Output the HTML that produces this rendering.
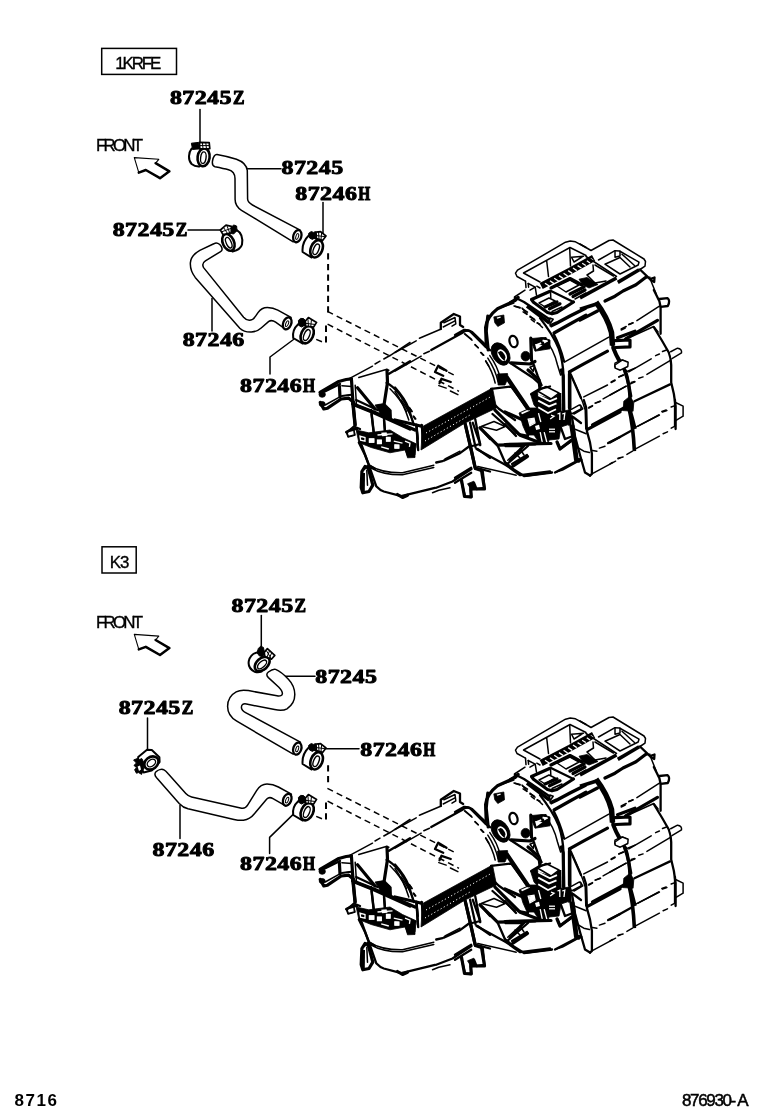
<!DOCTYPE html>
<html>
<head>
<meta charset="utf-8">
<title>8716 Heater hoses</title>
<style>
html,body{margin:0;padding:0;background:#fff;}
body{width:760px;height:1112px;overflow:hidden;font-family:"Liberation Sans",sans-serif;}
svg{display:block;position:absolute;left:0;top:0;will-change:transform;}
.pn{font-family:"Liberation Serif",serif;font-weight:bold;font-size:19.6px;fill:#000;stroke:#000;stroke-width:0.95px;stroke-linejoin:round;}
.sm{font-size:18.8px;stroke-width:1.15px;}
.thin{font-family:"Liberation Sans",sans-serif;font-size:16.9px;fill:#000;stroke:#000;stroke-width:0.35px;}
.ft{font-family:"Liberation Sans",sans-serif;font-size:17px;fill:#000;}
.l{fill:none;stroke:#000;stroke-width:1.5;stroke-linecap:round;stroke-linejoin:round;}
.h{fill:#fff;stroke:#000;stroke-width:1.5;stroke-linecap:round;stroke-linejoin:round;}
#c1>path:first-child,#c2>path:first-child,#c3>path:first-child,#c4>path:first-child,#c5>path:first-child,#c6>path:first-child{stroke-width:2;}
.k{fill:none;stroke:#000;stroke-width:2;stroke-linecap:round;stroke-linejoin:round;}
.b{fill:#000;stroke:#000;stroke-width:1;stroke-linejoin:round;}
.d{fill:none;stroke:#000;stroke-width:2;stroke-dasharray:6.3 4.3;}
.d2{fill:none;stroke:#000;stroke-width:1.5;stroke-dasharray:6.2 4.2;}
.u{fill:none;stroke:#000;stroke-width:1.5;stroke-linecap:round;stroke-linejoin:round;}
.u2{fill:none;stroke:#000;stroke-width:2.3;stroke-linecap:round;stroke-linejoin:round;}
.bk7{fill:none;stroke:#000;stroke-width:6.6;stroke-linecap:butt;}
.bk6{fill:none;stroke:#000;stroke-width:5.5;stroke-linecap:butt;}
.bk4{fill:none;stroke:#000;stroke-width:3.6;stroke-linecap:butt;}
.w{fill:none;stroke:#fff;stroke-width:1.3;stroke-linecap:butt;}
.f{fill:#000;stroke:#000;stroke-width:0.8;stroke-linejoin:round;}
.wf{fill:#fff;stroke:#000;stroke-width:1.5;stroke-linejoin:round;}
.wn{fill:#fff;stroke:none;}
.w3{fill:none;stroke:#fff;stroke-width:1.8;stroke-linecap:butt;}
.wd{fill:none;stroke:#fff;stroke-width:1;stroke-dasharray:1.2 2.4;}
.u3{fill:none;stroke:#000;stroke-width:3.2;stroke-linecap:round;stroke-linejoin:round;}
</style>
</head>
<body>
<svg width="760" height="1112" viewBox="0 0 760 1112">
<defs>
<!-- FRONT arrow -->
<g id="arrow">
<path d="M134.3 157.6 L158.8 159.3 L155.6 163.2 L169.4 171.3 L160 178.2 L145.8 170 L138.8 172.6 Z" fill="#fff" stroke="#000" stroke-width="1.1" stroke-linejoin="round"/>
<path d="M155.6 163.2 L169.4 171.3 L160 178.2 L145.8 170 L138.8 172.6" fill="none" stroke="#000" stroke-width="2.5" stroke-linejoin="round" stroke-linecap="round"/>
</g>
<!--UNITDEF_START-->
<g id="unit">
<path class="u" d="M 525.5 281.2 L 517.0 276.5 L 515.5 273.2 L 517.5 270.2 L 565.5 242.2 L 570.2 241.0 L 575.5 241.8 L 586.0 247.5"/>
<path class="u" d="M 540.0 282.0 L 523.5 273.0 L 570.0 247.5 L 586.0 255.5"/>
<path class="u" d="M 569.7 248.0 L 570.5 266.0"/>
<path class="u" d="M 546.7 261.0 L 548.5 276.5"/>
<path class="u" d="M 571.5 257.2 L 583.5 256.2 L 574.0 262.0 Z"/>
<path class="bk7" d="M 541.2 286.0 L 570.0 271.0 L 593.6 258.0"/>
<path class="w" d="M 586.8 260.8 L 590.0 263.0"/>
<path class="w" d="M 590.6 258.6 L 593.2 260.6"/>
<path class="w" d="M 545.0 283.2 L 549.2 286.0"/>
<path class="w" d="M 550.0 280.8 L 554.0 283.6"/>
<path class="w" d="M 554.2 278.2 L 558.8 281.2"/>
<path class="w" d="M 559.0 275.6 L 563.0 278.4"/>
<path class="w" d="M 563.6 273.2 L 567.6 276.0"/>
<path class="w" d="M 568.2 270.6 L 572.2 273.4"/>
<path class="w" d="M 573.0 268.0 L 576.8 270.6"/>
<path class="w" d="M 577.6 265.6 L 581.4 268.0"/>
<path class="w" d="M 582.2 263.2 L 585.8 265.5"/>
<path class="u" d="M 525.5 281.2 L 526.0 287.6"/>
<path class="u" d="M 528.2 283.5 L 528.6 287.2"/>
<path class="u" d="M 528.2 283.5 L 535.2 287.2 L 530.0 290.2"/>
<path class="u" d="M 535.2 287.2 L 536.5 295.2"/>
<path class="u" d="M 536.8 286.2 L 540.0 288.0"/>
<path class="u" d="M 510.0 302.0 L 514.5 299.2 L 514.5 297.0 L 525.0 290.2"/>
<path class="u2" d="M 515.5 297.8 L 524.0 302.0 L 549.5 319.2"/>
<path class="bk4" d="M 527.0 306.0 L 549.5 323.0"/>
<path class="u" d="M 549.5 319.2 L 550.2 326.0 L 554.0 324.8"/>
<path class="u" d="M 549.8 318.0 L 553.2 319.2 L 550.5 323.0"/>
<path class="u3" d="M 549.5 291.5 L 531.5 299.5 L 533.5 302.2 L 547.5 312.5 L 552.0 313.8 L 557.0 312.5 L 573.5 302.0"/>
<path class="u2" d="M 551.0 291.0 L 573.5 302.0"/>
<path class="u" d="M 539.0 303.0 L 549.0 298.0 L 555.2 301.0 L 545.0 307.0 Z"/>
<path class="u3" d="M 545.0 307.0 L 557.0 302.0"/>
<path class="u3" d="M 549.5 308.8 L 560.0 303.8"/>
<path class="u" d="M 552.0 311.5 L 562.0 307.0"/>
<path class="u" d="M 550.5 291.2 L 550.8 298.0"/>
<path class="u3" d="M 551.0 288.0 L 570.0 278.5 L 582.0 285.0"/>
<path class="u" d="M 557.0 286.0 L 570.0 280.0 L 579.0 285.0 L 566.0 292.0 Z"/>
<path class="u3" d="M 570.0 294.0 L 584.0 287.0"/>
<path class="u3" d="M 573.0 296.5 L 585.0 290.0"/>
<path class="u" d="M 575.0 299.0 L 586.0 293.0"/>
<path class="f" d="M 579.0 279.2 L 587.0 277.5 L 598.0 284.5 L 589.0 288.0 L 583.0 285.0 Z"/>
<path class="bk4" d="M 550.2 326.0 L 557.0 323.0 L 570.0 316.0 L 586.0 308.0"/>
<path class="u3" d="M 554.0 333.0 L 570.0 324.0 L 586.0 315.2"/>
<path class="u" d="M 514.0 306.0 L 520.0 308.0"/>
<path class="u" d="M 522.0 308.0 L 527.0 314.0"/>
<path class="u" d="M 530.0 317.0 L 534.0 319.0"/>
<path class="u" d="M 537.0 323.0 L 540.0 324.2"/>
<path class="u" d="M 580.0 244.0 L 591.0 250.5 L 609.0 240.5 L 613.0 240.0 L 644.0 259.0 L 645.5 261.5 L 645.0 266.2 L 640.0 269.5"/>
<path class="bk4" d="M 617.8 282.4 L 639.2 269.8"/>
<path class="u" d="M 598.5 260.0 L 615.0 250.7 L 619.5 251.0 L 639.0 262.2 L 638.2 265.0 L 620.0 274.0 L 605.0 264.2"/>
<path class="u" d="M 605.5 264.0 L 620.0 257.5 L 630.0 267.0"/>
<path class="u" d="M 615.0 251.0 L 615.0 257.2 L 620.0 256.0 L 620.0 251.2"/>
<path class="u" d="M 622.0 254.2 L 634.5 265.5"/>
<path class="u" d="M 586.0 256.5 L 616.5 276.5"/>
<path class="u" d="M 595.0 265.0 L 613.5 276.0"/>
<path class="bk4" d="M 616.5 278.0 L 580.0 297.8"/>
<path class="u" d="M 593.0 265.0 L 593.5 271.0 L 587.0 275.0 L 595.0 283.0 L 606.0 281.0"/>
<path class="u3" d="M 645.5 277.5 L 636.0 284.8 L 623.0 291.0 L 615.0 296.2 L 605.0 301.0"/>
<path class="bk4" d="M 580.0 309.2 L 596.5 304.0"/>
<path class="u3" d="M 580.0 320.2 L 597.5 311.0"/>
<path class="u2" d="M 640.0 269.5 L 650.0 279.2 L 654.5 277.5 L 654.2 282.0 L 650.5 279.8"/>
<path class="u" d="M 650.5 279.8 L 656.0 293.5"/>
<path class="u" d="M 645.0 278.0 L 650.0 277.2"/>
<path class="bk6" d="M 596.0 302.2 Q 607.5 317.5 611.5 332.5 L 612.5 345.6"/>
<path class="u3" d="M 612.5 345.0 Q 616.2 355.0 621.2 363.1 Q 627.5 375.0 630.8 396.2"/>
<path class="u2" d="M 553.8 334.4 Q 560.0 346.2 564.0 361.2"/>
<path class="u" d="M 564.4 362.2 L 608.8 337.2"/>
<path class="u3" d="M 569.4 371.9 L 583.8 363.8 L 607.5 351.2"/>
<path class="u3" d="M 569.8 371.9 L 570.0 429.0"/>
<path class="u" d="M 572.0 377.5 Q 581.2 396.2 585.2 410.0 L 585.8 429.0"/>
<path class="u" d="M 583.8 396.9 L 607.5 385.0"/>
<path class="u" d="M 611.2 381.9 L 615.0 380.0"/>
<path class="u" d="M 618.8 376.9 L 623.1 375.0"/>
<path class="u" d="M 603.1 398.8 L 626.2 386.2"/>
<path class="u" d="M 588.8 407.5 L 592.5 405.6"/>
<path class="u" d="M 595.0 403.1 L 600.0 401.2"/>
<path class="u3" d="M 592.5 425.0 L 625.0 407.5"/>
<path class="u2" d="M 540.0 318.1 Q 552.5 333.8 558.8 348.8 Q 563.1 361.2 563.5 376.2 L 563.2 410.0"/>
<path class="u" d="M 545.0 339.4 Q 553.8 348.8 557.5 365.0 L 560.6 375.0"/>
<path class="u2" d="M 540.0 338.8 L 545.6 338.1 L 546.2 342.5 L 540.0 345.0"/>
<path class="wf" d="M 615.0 363.1 L 621.9 360.0 L 627.5 362.2 L 626.9 366.5 L 618.8 369.0 L 614.8 366.9 Z"/>
<path class="u3" d="M 615.0 340.6 L 630.0 340.0 L 630.0 346.9 L 615.6 347.5"/>
<path class="u" d="M 621.2 329.0 L 626.2 326.5"/>
<path class="u" d="M 628.8 324.5 L 633.1 322.8"/>
<path class="u3" d="M 617.5 337.8 L 635.0 331.2"/>
<path class="u" d="M 627.5 371.2 L 635.0 368.1"/>
<path class="u" d="M 630.0 384.0 L 635.0 381.9"/>
<path class="wf" d="M 571.9 410.2 L 580.2 405.0 L 582.8 408.8 L 574.0 414.0 Z"/>
<path class="u3" d="M 612.8 347.8 Q 617.5 360.0 625.2 370.6"/>
<path class="u2" d="M 653.8 290.0 L 659.4 301.2 L 660.6 306.9 L 660.6 333.8"/>
<path class="u2" d="M 654.0 327.5 Q 662.5 341.2 668.8 352.5 Q 671.0 357.5 671.2 365.0 L 671.2 382.5 Q 674.4 393.8 675.6 406.2 L 675.6 429.0"/>
<path class="u2" d="M 659.4 299.0 L 667.5 298.1 Q 670.6 300.6 667.8 306.0 L 660.6 306.9"/>
<path class="u" d="M 636.9 320.6 L 659.4 306.2"/>
<path class="u" d="M 628.8 324.5 L 632.8 323.0"/>
<path class="u" d="M 621.2 330.0 L 625.2 328.1"/>
<path class="u3" d="M 625.6 338.8 L 657.5 320.4"/>
<path class="u" d="M 628.8 337.8 L 653.8 326.5 L 658.1 331.9"/>
<path class="wf" d="M 615.0 365.0 L 622.5 360.0 L 628.1 362.2 L 627.8 366.5 L 620.2 370.2 L 615.2 368.1 Z"/>
<path class="u" d="M 628.8 371.9 L 651.2 358.8"/>
<path class="u" d="M 655.6 355.6 L 659.4 354.0"/>
<path class="u" d="M 662.5 351.5 L 666.5 350.0"/>
<path class="u" d="M 646.9 374.4 L 670.0 360.6"/>
<path class="u" d="M 638.8 378.2 L 643.1 376.9"/>
<path class="u" d="M 631.2 382.5 L 634.5 381.5"/>
<path class="u" d="M 611.2 382.5 L 615.0 380.6"/>
<path class="u" d="M 618.8 377.0 L 623.8 375.0"/>
<path class="u" d="M 610.0 395.0 L 626.2 386.2"/>
<path class="wf" d="M 670.2 352.0 L 677.5 348.2 Q 682.2 348.8 681.5 352.8 L 671.5 358.8"/>
<path class="u2" d="M 634.4 401.2 L 670.0 384.4"/>
<path class="u" d="M 661.9 411.5 L 666.2 410.0"/>
<path class="u" d="M 638.1 426.2 L 658.8 415.0"/>
<path class="u" d="M 610.0 415.0 L 622.5 409.4"/>
<path class="u" d="M 675.6 402.5 L 683.1 406.2 L 683.1 416.2 L 675.6 420.6"/>
<path class="u3" d="M 625.6 371.2 Q 629.4 382.5 630.0 401.2"/>
<path class="f" d="M 623.8 401.2 L 630.0 396.2 L 633.8 402.5 L 633.1 411.2 L 623.1 410.6 Z"/>
<path class="bk4" d="M 630.0 410.0 Q 633.1 421.2 635.0 429.0"/>
<path class="bk4" d="M 628.8 407.5 Q 633.1 425.0 634.4 451.2"/>
<path class="u2" d="M 675.0 400.0 L 675.0 426.2"/>
<path class="u" d="M 636.2 426.9 L 659.4 415.0"/>
<path class="u" d="M 662.5 412.0 L 666.9 410.6"/>
<path class="u" d="M 671.2 407.0 L 675.0 405.6"/>
<path class="u" d="M 635.6 448.8 L 659.4 436.2"/>
<path class="u" d="M 663.1 433.8 L 667.5 431.9"/>
<path class="u" d="M 671.2 428.2 L 675.0 426.2"/>
<path class="u2" d="M 610.0 442.5 L 632.5 430.0"/>
<path class="u" d="M 626.9 454.4 L 632.5 451.2"/>
<path class="u" d="M 618.1 458.2 L 623.1 456.9"/>
<path class="u" d="M 610.0 463.8 L 612.5 462.5"/>
<path class="u" d="M 610.0 416.2 L 616.2 413.8"/>
<path class="u2" d="M 583.8 400.0 L 586.2 407.5 L 586.9 431.2 Q 590.6 442.5 591.9 453.8 L 591.9 473.8 L 590.0 475.6"/>
<path class="u2" d="M 571.9 416.2 L 575.0 436.2 L 580.0 455.0 L 585.0 472.5 L 590.0 475.6"/>
<path class="u" d="M 573.8 428.8 L 580.0 431.2 L 586.2 433.8"/>
<path class="u" d="M 577.5 447.5 L 583.8 451.2 L 589.4 452.5"/>
<path class="u3" d="M 587.5 429.4 L 620.0 411.9"/>
<path class="u" d="M 588.8 408.1 L 592.5 406.2"/>
<path class="u" d="M 595.6 403.1 L 600.6 401.2"/>
<path class="u" d="M 599.4 448.1 L 605.0 446.2"/>
<path class="u2" d="M 608.1 443.1 L 620.0 436.9"/>
<path class="u" d="M 592.5 450.6 L 596.9 451.2"/>
<path class="u" d="M 591.9 473.8 L 615.6 461.2"/>
<path class="u" d="M 618.1 458.8 L 620.0 458.1"/>
<path class="u" d="M 525.0 476.2 L 551.9 472.5"/>
<path class="u" d="M 555.6 472.2 L 562.5 470.0 L 578.8 461.2"/>
<path class="u2" d="M 557.5 442.5 L 560.0 448.8 L 572.5 440.2 L 574.4 437.5"/>
<path class="u3" d="M 573.1 441.2 L 575.6 460.0 L 578.8 461.2"/>
<path class="f" d="M 519.0 413.0 L 530.0 408.0 L 538.0 408.0 L 549.0 414.0 L 557.0 412.0 L 569.0 410.0 L 570.0 424.0 L 561.0 427.0 L 559.0 439.0 L 549.0 440.0 L 548.0 444.0 L 540.0 444.0 L 534.0 435.0 L 527.0 435.0 L 523.0 426.0 L 520.0 416.0 Z"/>
<path class="f" d="M 530.5 394.0 L 537.5 390.5 L 538.5 410.0 L 534.0 405.0 Z"/>
<path class="f" d="M 537.5 395.0 L 551.0 399.0 L 559.5 393.2 L 559.8 412.0 L 548.0 414.6 L 538.0 410.0 Z"/>
<path class="wf" d="M 537.5 391.0 L 546.0 386.5 L 559.0 393.0 L 551.0 399.0 Z"/>
<path class="w3" d="M 538.2 395.2 L 550.0 401.2 L 557.0 398.2"/>
<path class="w3" d="M 538.2 400.6 L 549.0 406.4 L 556.5 403.4"/>
<path class="w3" d="M 538.2 407.2 L 548.0 413.0 L 556.0 409.2"/>
<path class="bk4" d="M 559.5 393.0 L 559.8 412.0"/>
<path class="wn" d="M 528.6 419.4 L 533.8 418.6 L 534.6 422.8 L 530.2 425.2 Z"/>
<path class="wn" d="M 521.0 412.8 L 529.0 409.2 L 529.8 410.8 L 522.0 414.2 Z"/>
<path class="wn" d="M 561.6 428.4 L 565.0 438.4 L 572.2 435.6 L 569.8 425.6 Z"/>
<path class="w" d="M 538.5 413.2 L 540.8 422.0"/>
<path class="wn" d="M 535.0 426.0 L 539.0 424.8 L 540.0 429.0 L 536.2 430.0 Z"/>
<path class="w" d="M 528.2 419.2 L 534.0 418.2 L 535.0 423.0 L 530.0 425.8 Z"/>
<path class="w" d="M 549.0 429.2 L 555.0 429.2"/>
<path class="w" d="M 549.0 431.8 L 555.0 431.8"/>
<path class="w" d="M 551.0 415.2 L 554.0 416.2 L 550.2 419.0"/>
<path class="w" d="M 557.5 414.0 L 559.8 413.2 L 559.8 420.0"/>
<path class="w" d="M 562.2 414.0 L 564.8 413.2 L 564.0 420.0"/>
<path class="w" d="M 540.2 432.2 L 542.2 442.0"/>
<path class="w" d="M 544.2 432.2 L 547.0 443.0"/>
<path class="u3" d="M 506.0 377.0 L 527.0 408.0"/>
<path class="u3" d="M 528.0 370.0 L 539.0 380.0 L 540.0 389.0"/>
<path class="u3" d="M 505.0 412.0 L 523.0 420.0"/>
<path class="u2" d="M 505.0 420.0 L 518.0 434.0 L 528.0 436.0"/>
<path class="u2" d="M 505.0 424.0 L 516.0 436.0"/>
<path class="u3" d="M 561.2 370.0 L 563.2 376.0 L 563.8 410.0"/>
<path class="u2" d="M 569.0 374.0 L 569.0 408.0"/>
<path class="wf" d="M 570.0 410.2 L 579.0 405.2 L 581.0 406.2 L 581.0 409.0 L 571.5 414.0 Z"/>
<path class="u2" d="M 571.0 375.0 L 581.0 398.0"/>
<path class="u2" d="M 573.0 417.0 L 581.0 423.0"/>
<path class="u3" d="M 505.0 444.5 L 551.0 443.5"/>
<path class="u2" d="M 506.0 465.0 L 528.0 446.0"/>
<path class="u2" d="M 512.0 464.0 L 527.0 455.0"/>
<path class="u" d="M 515.0 453.0 L 520.0 458.0"/>
<path class="u" d="M 520.0 449.0 L 524.0 455.0"/>
<path class="u2" d="M 505.0 462.0 L 513.0 469.0 L 524.0 476.0 L 552.0 472.5"/>
<path class="u2" d="M 555.0 472.5 L 575.0 462.0"/>
<path class="u3" d="M 557.0 442.0 L 560.0 449.0 L 573.0 439.0 L 571.0 426.0"/>
<path class="u2" d="M 561.0 428.0 L 565.0 439.0 L 573.0 436.0"/>
<path class="u3" d="M 573.0 426.0 L 577.0 459.0 L 581.0 460.0"/>
<path class="u3" d="M 486.2 343.8 L 485.6 327.5 Q 486.9 316.9 497.5 308.8 L 515.0 300.6 L 518.1 297.5"/>
<path class="u" d="M 497.5 308.8 L 513.8 303.1"/>
<path class="u" d="M 515.0 306.2 L 520.0 307.5"/>
<path class="u" d="M 522.5 308.8 L 527.5 312.2"/>
<path class="u" d="M 530.0 316.2 L 535.0 320.2"/>
<path class="u" d="M 537.5 322.8 L 542.5 327.5"/>
<path class="u" d="M 523.1 311.9 L 526.9 314.4"/>
<path class="u" d="M 531.2 319.4 L 534.4 321.9"/>
<path class="f" d="M 493.8 316.9 L 503.8 315.0 L 504.5 322.8 L 497.8 326.5 L 494.8 322.8 Z"/>
<path class="w" d="M 496.9 318.1 L 500.6 317.2"/>
<ellipse class="u2" cx="513.5" cy="341.5" rx="3.9" ry="5.8" transform="rotate(-15 513.5 341.5)"/>
<ellipse class="f" cx="525.6" cy="356.2" rx="4.5" ry="4.8" transform="rotate(0 525.6 356.2)"/>
<path class="u3" d="M 530.8 338.1 L 531.5 360.0"/>
<path class="f" d="M 531.9 338.5 L 542.5 337.5 L 550.0 340.0 L 550.0 348.8 L 535.0 351.2 L 532.5 345.0 Z"/>
<path class="wn" d="M 535.0 344.0 L 542.5 345.2 L 536.5 349.5 Z"/>
<path class="wn" d="M 543.1 339.8 L 548.1 341.2 L 544.4 343.5 Z"/>
<path class="w3" d="M 536.2 345.0 L 541.2 343.1"/>
<path class="w3" d="M 542.5 340.6 L 547.5 341.2"/>
<path class="u3" d="M 511.2 362.8 L 530.0 364.0 L 535.0 361.5"/>
<path class="u2" d="M 531.5 360.0 L 534.0 365.6 L 537.8 376.2 L 541.5 385.2"/>
<path class="wf" d="M 530.0 367.2 L 534.5 365.2 L 533.2 371.5 Z"/>
<ellipse class="f" cx="500.6" cy="354.0" rx="8.2" ry="12.2" transform="rotate(-32 500.6 354.0)"/>
<ellipse class="w3" cx="502.2" cy="355.2" rx="3.2" ry="5.5" transform="rotate(-32 502.2 355.2)"/>
<path class="u" d="M 498.8 352.5 L 504.4 360.0"/>
<path class="u2" d="M 455.0 335.0 L 463.8 330.0 Q 468.8 329.8 471.9 331.9 L 485.6 345.0"/>
<path class="u" d="M 465.0 333.8 L 471.2 339.0"/>
<path class="u" d="M 475.0 345.0 L 478.2 347.8"/>
<path class="u" d="M 480.6 352.5 L 483.2 355.2"/>
<path class="u" d="M 485.6 361.0 Q 492.5 371.2 495.2 383.1"/>
<path class="u" d="M 487.8 358.1 Q 495.6 370.0 498.1 381.9"/>
<path class="u" d="M 489.8 355.6 Q 497.5 366.2 500.0 377.5"/>
<path class="f" d="M 497.5 374.0 L 507.5 373.5 L 508.1 378.1 L 505.0 385.0 L 498.1 385.0 Z"/>
<path class="u3" d="M 507.5 377.5 L 528.8 408.8"/>
<path class="u2" d="M 510.0 362.8 L 532.5 377.5 L 541.2 385.2"/>
<path class="u2" d="M 491.2 389.0 L 492.5 402.5 L 498.8 408.8 L 515.0 420.0"/>
<path class="u2" d="M 531.2 394.0 L 540.0 388.8 L 550.0 386.5"/>
<path class="f" d="M 423.5 426.0 L 492.5 388.0 L 496.5 408.0 L 465.0 423.0 L 421.0 450.0 L 422.0 435.0 Z"/>
<path class="wd" d="M 426.0 433.0 L 492.0 396.0"/>
<path class="wd" d="M 425.0 441.0 L 470.0 415.0"/>
<path class="u3" d="M 320.0 392.5 L 338.8 381.5 L 346.2 379.5 L 351.5 378.8"/>
<path class="u2" d="M 324.8 391.5 L 340.0 384.0"/>
<ellipse class="f" cx="322.2" cy="394.5" rx="3.2" ry="2.8" transform="rotate(0 322.2 394.5)"/>
<path class="u3" d="M 320.2 402.5 L 323.8 409.0 L 327.5 408.2 L 341.2 399.0 L 348.8 398.2 L 353.8 402.5"/>
<path class="u" d="M 325.2 405.0 L 341.2 396.2 L 351.2 395.0"/>
<ellipse class="f" cx="322.2" cy="404.0" rx="3.0" ry="2.5" transform="rotate(0 322.2 404.0)"/>
<path class="u3" d="M 339.4 386.2 L 340.0 396.9"/>
<path class="u" d="M 341.9 385.8 L 351.9 386.5"/>
<path class="u" d="M 341.9 395.8 L 351.2 394.5"/>
<path class="u" d="M 348.8 378.8 L 372.5 366.2"/>
<path class="u" d="M 375.0 364.0 L 380.0 361.2"/>
<path class="u" d="M 383.8 359.0 L 390.0 355.5"/>
<path class="u" d="M 390.0 355.6 L 410.0 342.5"/>
<path class="u" d="M 358.8 377.5 L 386.2 369.5 L 388.8 370.2"/>
<path class="u2" d="M 389.0 373.8 L 410.0 361.2"/>
<path class="u3" d="M 387.0 370.2 L 387.5 382.5 L 384.0 405.0"/>
<path class="u2" d="M 386.5 382.8 Q 400.0 390.0 410.0 412.5"/>
<path class="u" d="M 390.0 388.8 Q 401.2 400.0 406.5 411.5"/>
<path class="u3" d="M 351.5 380.2 L 352.8 400.0 L 355.2 425.0"/>
<path class="u" d="M 355.2 385.2 L 356.5 405.0"/>
<path class="u3" d="M 357.5 387.8 L 375.0 409.0"/>
<path class="u3" d="M 355.2 405.2 L 373.8 412.8 L 410.0 429.0"/>
<path class="f" d="M 377.5 405.0 L 385.0 403.8 L 391.2 410.0 L 391.5 420.0 L 382.5 417.5 Z"/>
<path class="u2" d="M 371.5 414.0 L 373.8 433.8"/>
<path class="u2" d="M 384.0 420.2 L 385.0 432.5"/>
<path class="wf" d="M 346.2 432.1 L 353.8 430.0 L 355.0 435.0 L 348.1 437.0 Z"/>
<path class="u2" d="M 346.2 432.1 L 352.5 428.8 L 357.5 429.0"/>
<path class="u2" d="M 358.8 442.5 L 365.0 455.0 L 369.0 465.2 L 364.0 469.0"/>
<path class="u2" d="M 369.0 465.2 L 375.0 469.0"/>
<path class="u" d="M 395.0 352.5 L 416.2 340.8"/>
<path class="u" d="M 419.4 338.2 L 441.2 329.0"/>
<path class="u2" d="M 440.8 329.0 L 440.8 322.8 L 453.8 314.0 L 460.0 316.5 L 460.0 325.0 L 463.2 327.0"/>
<path class="u" d="M 443.8 322.8 L 455.0 317.5 L 455.8 323.8 L 452.0 326.2"/>
<path class="u" d="M 443.2 327.0 L 455.0 320.8"/>
<path class="u" d="M 395.0 371.2 L 421.2 356.2"/>
<path class="u" d="M 423.8 353.8 L 429.5 351.2"/>
<path class="u2" d="M 431.2 350.0 L 462.5 332.8 Q 465.6 329.4 470.0 331.2 L 485.2 346.5 L 490.0 350.2"/>
<path class="u" d="M 464.5 334.0 L 472.0 340.2"/>
<path class="u" d="M 475.0 344.5 L 478.2 347.8"/>
<path class="u" d="M 481.2 352.5 L 483.8 355.2"/>
<path class="u" d="M 485.8 360.8 L 488.8 366.2"/>
<path class="u2" d="M 446.5 370.8 L 438.2 365.8 L 435.0 372.0 L 443.2 375.8"/>
<path class="u2" d="M 450.8 382.0 L 441.5 378.8 L 439.5 383.2"/>
<path class="u" d="M 438.8 385.6 L 446.2 388.1"/>
<path class="u2" d="M 395.0 387.5 Q 405.0 398.8 408.8 408.8 L 413.8 425.0"/>
<path class="u" d="M 395.0 391.5 Q 403.8 403.8 408.8 420.0"/>
<path class="u" d="M 409.4 407.5 L 412.0 411.5"/>
<path class="u" d="M 413.2 416.2 L 415.0 419.0"/>
<path class="u3" d="M 395.0 420.0 L 411.2 423.8 L 421.5 426.2"/>
<path class="u2" d="M 416.5 425.0 L 417.8 439.0"/>
<path class="u2" d="M 421.5 425.0 L 423.8 439.0"/>
<path class="u3" d="M 487.8 316.2 L 486.2 331.2 L 488.2 350.0"/>
<path class="f" d="M 356.2 430.0 L 368.8 432.8 L 390.0 430.0 L 402.5 437.5 L 416.2 443.8 L 415.0 455.0 L 407.5 456.5 L 405.0 450.0 L 390.0 452.8 L 371.2 447.5 L 358.8 442.5 Z"/>
<path class="wn" d="M 369.0 438.5 L 374.2 438.5 L 374.2 442.8 L 369.0 442.8 Z"/>
<path class="wn" d="M 377.0 439.8 L 381.8 439.8 L 381.8 444.0 L 377.0 444.0 Z"/>
<path class="wn" d="M 386.0 437.0 L 390.5 437.0 L 390.5 441.5 L 386.0 441.5 Z"/>
<path class="wn" d="M 394.5 444.5 L 399.2 444.8 L 399.2 448.5 L 394.5 448.5 Z"/>
<path class="wn" d="M 381.2 432.8 L 386.5 432.2 L 387.5 435.8 L 382.2 436.2 Z"/>
<path class="w" d="M 369.4 439.0 L 373.8 439.0 L 373.8 442.2 L 369.4 442.2 Z"/>
<path class="w" d="M 377.5 440.2 L 381.2 440.2 L 381.2 443.5 L 377.5 443.5 Z"/>
<path class="w" d="M 386.5 437.5 L 390.0 437.5 L 390.0 441.0 L 386.5 441.0 Z"/>
<path class="w" d="M 395.0 445.0 L 398.8 445.2 L 398.8 448.0 L 395.0 448.0 Z"/>
<path class="w" d="M 377.5 435.0 L 392.5 433.8"/>
<path class="w" d="M 360.0 436.2 L 365.0 437.5 L 365.0 441.2 L 360.6 440.2 Z"/>
<path class="w" d="M 405.0 441.2 L 410.0 443.1 L 409.4 446.9"/>
<path class="w" d="M 381.2 446.9 L 388.8 449.0"/>
<path class="w" d="M 393.8 441.2 L 402.5 443.1"/>
<path class="wf" d="M 346.9 432.1 L 353.8 430.0 L 354.5 435.0 L 348.2 436.5 Z"/>
<path class="u2" d="M 346.9 432.5 L 353.8 426.5 L 360.0 429.0"/>
<path class="u3" d="M 352.5 400.0 L 355.0 425.0"/>
<path class="u2" d="M 371.2 410.0 L 373.8 432.5"/>
<path class="u2" d="M 383.8 416.2 L 385.0 431.2"/>
<path class="u3" d="M 352.5 403.8 L 375.0 412.5 L 415.0 430.0"/>
<path class="u2" d="M 356.2 400.0 L 377.5 410.0"/>
<path class="f" d="M 375.0 405.0 L 382.5 403.8 L 390.0 408.8 L 391.2 418.8 L 381.2 415.0 Z"/>
<path class="u2" d="M 416.5 425.0 L 417.8 447.5"/>
<path class="u" d="M 422.5 425.0 L 422.5 441.2"/>
<path class="u" d="M 401.2 400.0 Q 410.0 412.5 413.8 423.8"/>
<path class="u" d="M 410.0 408.8 L 412.0 411.5"/>
<path class="u" d="M 413.8 416.2 L 415.8 419.0"/>
<path class="u2" d="M 361.2 443.8 L 368.8 465.0 L 376.2 486.2 Q 380.0 490.2 383.8 491.5 L 401.2 496.2 L 435.0 487.8"/>
<path class="u" d="M 368.8 465.0 Q 381.2 473.1 402.5 472.8 L 433.8 465.2"/>
<path class="u" d="M 371.2 468.1 Q 382.5 475.0 402.5 474.8 L 433.8 467.5"/>
<path class="u3" d="M 361.9 471.5 L 365.0 466.5 L 368.2 467.8 L 372.8 485.2 L 369.0 491.5 L 362.8 492.8 L 361.2 487.5 Z"/>
<path class="bk4" d="M 363.2 473.1 L 363.0 491.2"/>
<path class="u" d="M 366.8 470.2 L 367.5 485.2"/>
<path class="u3" d="M 397.5 494.5 L 402.5 497.5 L 407.5 495.2"/>
<path class="u2" d="M 436.2 462.5 L 442.5 461.2"/>
<path class="u2" d="M 443.8 460.6 L 460.0 453.1 L 469.0 446.5"/>
<path class="u" d="M 445.0 458.8 L 460.0 451.2"/>
<path class="u2" d="M 436.2 487.8 L 452.5 481.5 L 471.5 469.0"/>
<path class="u" d="M 432.5 492.8 L 438.8 490.2 L 450.0 487.8"/>
<path class="u3" d="M 465.2 424.0 L 470.2 445.2 L 475.2 467.8"/>
<path class="u2" d="M 472.8 422.8 L 480.2 444.0 L 470.2 446.5"/>
<path class="u2" d="M 461.2 480.2 L 465.0 496.5 L 471.5 497.0 L 470.2 486.5 L 474.0 482.8 L 476.5 489.0 L 484.5 487.8 L 482.8 471.5 L 475.2 469.0"/>
<path class="f" d="M 470.0 486.2 L 474.0 482.5 L 476.2 489.0 L 471.2 490.0 Z"/>
<path class="u2" d="M 416.5 425.2 L 418.2 450.2"/>
<path class="u2" d="M 422.0 426.5 L 422.8 442.8"/>
<path class="f" d="M 405.0 447.8 L 415.0 447.5 L 415.0 457.5 L 407.5 457.8 Z"/>
<path class="u2" d="M 480.0 427.8 L 490.0 439.0"/>
<path class="u2" d="M 477.5 449.0 L 490.0 457.8"/>
<path class="u2" d="M 476.2 467.8 L 490.0 471.5"/>
<path class="u3" d="M 465.2 424.0 L 471.2 450.2 L 475.2 467.8"/>
<path class="u2" d="M 470.0 422.5 L 475.6 447.5"/>
<path class="u2" d="M 475.2 419.0 L 480.2 445.2"/>
<path class="u3" d="M 480.0 427.8 L 497.5 445.2 L 535.0 444.0"/>
<path class="u2" d="M 497.5 445.2 L 505.2 462.8"/>
<path class="u2" d="M 476.5 449.0 L 506.2 465.2 L 520.2 475.2 L 550.0 471.5"/>
<path class="u" d="M 505.2 446.5 L 522.5 446.5 L 507.8 460.2"/>
<path class="u2" d="M 510.0 460.2 L 525.0 445.2"/>
<path class="u3" d="M 512.5 466.5 L 527.5 456.5"/>
<path class="u2" d="M 471.2 467.8 L 455.0 477.8"/>
<path class="u2" d="M 455.0 482.8 L 471.2 472.8"/>
<path class="u3" d="M 461.5 480.2 L 464.5 496.5 L 471.2 497.0 L 470.8 489.0 L 484.5 489.0 L 481.5 470.2"/>
<path class="f" d="M 467.5 483.8 L 473.8 481.2 L 475.6 488.8 L 470.8 489.0 Z"/>
<path class="u" d="M 477.8 466.5 L 516.2 475.2"/>
<path class="u3" d="M 495.0 410.2 L 520.0 435.2 L 540.2 442.8"/>
<path class="u2" d="M 492.5 414.0 L 515.0 434.0"/>
<path class="u2" d="M 491.2 388.8 L 511.2 386.5 L 527.8 409.0"/>
<path class="u" d="M 481.2 426.5 L 494.0 421.5 L 505.2 426.5 L 496.5 430.2 Z"/>
<path class="u" d="M 450.4 391.0 L 457.9 394.6"/>
</g>
<!--UNITDEF_END-->
</defs>

<!-- ===== boxes / headings ===== -->
<rect x="101.7" y="48.4" width="74.8" height="26" fill="#fff" stroke="#000" stroke-width="1.5"/>
<text class="thin" x="115.2" y="68.5" textLength="46.2" lengthAdjust="spacing">1KRFE</text>
<rect x="102" y="546.8" width="34.2" height="26.2" fill="#fff" stroke="#000" stroke-width="1.5"/>
<text class="thin" x="109.7" y="567.5" textLength="19.8" lengthAdjust="spacing">K3</text>

<text class="thin" x="96" y="151" textLength="47" lengthAdjust="spacing">FRONT</text>
<use href="#arrow"/>
<text class="thin" x="96" y="627.7" textLength="47" lengthAdjust="spacing">FRONT</text>
<use href="#arrow" transform="translate(0,476.8)"/>

<!--UPPER_START-->
<!-- ===== UPPER FIGURE ===== -->
<g id="labelsTop">
<text class="pn" transform="translate(169.9 104.2) scale(1.22 1)" textLength="50.5" lengthAdjust="spacing">87245</text><text class="pn sm" transform="translate(232.9 104.2) scale(0.92 1)">Z</text>
<text class="pn" transform="translate(281.5 173.8) scale(1.22 1)" textLength="50.5" lengthAdjust="spacing">87245</text>
<text class="pn" transform="translate(295.3 199.6) scale(1.22 1)" textLength="50.5" lengthAdjust="spacing">87246</text><text class="pn sm" transform="translate(358.3 199.6) scale(0.82 1)">H</text>
<text class="pn" transform="translate(112.7 236.2) scale(1.22 1)" textLength="50.5" lengthAdjust="spacing">87245</text><text class="pn sm" transform="translate(175.7 236.2) scale(0.92 1)">Z</text>
<text class="pn" transform="translate(182.7 346.4) scale(1.22 1)" textLength="50.5" lengthAdjust="spacing">87246</text>
<text class="pn" transform="translate(240.1 391.8) scale(1.22 1)" textLength="50.5" lengthAdjust="spacing">87246</text><text class="pn sm" transform="translate(303.1 391.8) scale(0.82 1)">H</text>
</g>
<!-- leaders -->
<path class="l" d="M200 109.5 V143"/>
<path class="l" d="M247.5 168.8 H281"/>
<path class="l" d="M323 202.5 V235"/>
<path class="l" d="M188 230 H221"/>
<path class="l" d="M212 298.5 V331"/>
<path class="l" d="M270 374 V357 L293.5 339.5"/>
<!-- dashed guide lines -->
<path class="d" d="M328.1 253.3 V314"/><path class="d2" d="M327.4 311.4 L457 376.6"/>
<path class="d" d="M326 325.6 V343.6"/><path class="d2" d="M316.2 339.4 L323.7 342.4"/><path class="d2" d="M327.6 324.2 L459 391.3"/>
<!-- hose 87245 -->
<path class="h" d="M217 154.4 C224 155.6 231 157.4 236.5 159.2 C243 161.5 246.6 164.5 247.3 170.5 L247.6 199 C247.7 201.6 249.6 203.3 252.5 205 L300.2 230.2 L293.2 241.8 L241.5 210.4 C236.8 207.2 235.1 204.2 235.1 199.5 L235 178.5 C234.9 173.5 233 171 228.5 169.8 C224 168.6 219 167.6 215 166.8 C212.5 166 212 163.5 212.6 160.5 C213.2 157.2 214.2 154.2 217 154.4 Z"/>
<g transform="translate(297.3,236.2) rotate(17)"><ellipse class="h" cx="0" cy="0" rx="4" ry="6.2" style="stroke-width:2.3"/><ellipse cx="0" cy="0.3" rx="1.3" ry="3" fill="#fff" stroke="#000" stroke-width="1"/></g>
<!-- hose 87246 -->
<path class="h" d="M213.8 243.8 C216.5 242.2 219.6 243.4 221.2 246.4 C222.4 248.6 222.4 250.6 220.6 251.6 L205.4 260.8 C202.6 262.6 202 264.6 203.6 267.6 L243.6 317.2 C246.4 320.4 249.8 320.8 252.6 319.4 C254.6 318.2 256.2 315.2 258 312.6 C260.6 309 263.2 307.6 267.4 307.6 C271.6 307.6 274.6 308.4 277.8 310.2 L291 317.4 L285 328.8 L275.6 322.2 C273 320.4 271 320 268.8 321.4 L261.2 328 C258.6 330.4 255.6 331.8 251.4 332 C246.6 332.2 243 331.4 239.8 328.2 L195.2 277.4 C191.6 272.8 190 268.2 190.4 262.6 C190.8 257.2 194.4 253.4 199.8 250.4 Z"/>
<g transform="translate(287.2,323.4) rotate(22)"><ellipse class="h" cx="0" cy="0" rx="4" ry="6.2" style="stroke-width:2.3"/><ellipse cx="0" cy="0.3" rx="1.3" ry="3" fill="#fff" stroke="#000" stroke-width="1"/></g>

<!-- clamp 1 -->
<g id="c1">
<path class="h" d="M191.6 148.6 C188.4 152.6 187.8 160 191.6 164 C193.8 165.8 196.8 166.6 199.6 166.4 L203 148.4 Z"/>
<g transform="translate(203.6,157.3) rotate(8)"><ellipse class="h" cx="0" cy="0" rx="6" ry="9" style="stroke-width:2.6"/><ellipse class="h" cx="-0.2" cy="0.4" rx="2.7" ry="5.8" style="stroke-width:1.4"/></g>
<path class="b" d="M191.4 143.2 L198.6 142.4 L199.4 148.4 L192.6 149.4 Z"/>
<path d="M199.4 142.4 L209.2 142.6 L209.8 148.6 L199.8 148.8 Z" fill="#fff" stroke="#000" stroke-width="1.7" stroke-linejoin="round"/>
<path class="l" d="M202.4 142.6 L203 148.4 M205.8 142.8 L206.4 148.4 M200 145.6 H209.4" style="stroke-width:1"/>
</g>
<!-- clamp 2 -->
<g id="c2">
<path class="h" d="M236.8 230.2 C241 232.6 243 238 242 244.6 C241.2 247.6 237.8 250.4 232.6 251.6 L226 234 Z"/>
<g transform="translate(228.4,242.4) rotate(-24)"><ellipse class="h" cx="0" cy="0" rx="5.6" ry="8.8" style="stroke-width:2.6"/><ellipse class="h" cx="0.2" cy="0.4" rx="2.5" ry="5.6" style="stroke-width:1.4"/></g>
<path d="M220.4 230 L226 225.2 L231.4 226.4 L231.2 232.8 L223 234.6 Z" fill="#fff" stroke="#000" stroke-width="1.7" stroke-linejoin="round"/>
<path class="l" d="M224 228.2 L227.4 233.4 M227.2 226.4 L229.6 232.6 M222.2 231.6 L230.6 228.6" style="stroke-width:1"/>
<path class="b" d="M231.4 227 L233.8 225 L236.6 226 L237 230.6 L233.6 234 L231.6 233.6 Z"/>
</g>
<!-- clamp 3 -->
<g id="c3">
<path class="h" d="M309.2 235 C304.4 239.6 302 245.6 302.6 252 L311.4 257.4 L318 240 Z"/>
<g transform="translate(316.6,248.8) rotate(22)"><ellipse class="h" cx="0" cy="0" rx="5.8" ry="9" style="stroke-width:2.6"/><ellipse class="h" cx="-0.2" cy="0.6" rx="2.6" ry="5.6" style="stroke-width:1.4"/></g>
<path class="b" d="M308.6 233.4 L311.2 231.6 L313.6 232.4 L315.4 231.6 L316 237.2 L312.4 239.4 L309.6 238 Z"/>
<path d="M316 232.2 L320.6 231.6 L326 236 L322.6 240.4 L316.4 238.6 Z" fill="#fff" stroke="#000" stroke-width="1.7" stroke-linejoin="round"/>
<path class="l" d="M318.6 232.4 L319 239 M321.6 233.2 L321 239.8 M316.6 235.6 L324.6 236.6" style="stroke-width:1"/>
</g>
<!-- clamp 4 -->
<g id="c4">
<path class="h" d="M298.4 324 C294 328 292.4 333 293.2 338 L302.4 343.4 L309 326 Z"/>
<g transform="translate(307.2,334.6) rotate(24)"><ellipse class="h" cx="0" cy="0" rx="6" ry="9.2" style="stroke-width:2.6"/><ellipse class="h" cx="-0.2" cy="0.6" rx="2.7" ry="5.8" style="stroke-width:1.4"/></g>
<path class="b" d="M298.4 320.4 L300.6 318.4 L303.6 318.6 L305.4 320.6 L305.2 325 L301.6 327 L298.8 325.4 Z"/>
<path d="M305.4 321 L308.4 317.6 L316.6 322.4 L313.6 327 L305.6 326.2 Z" fill="#fff" stroke="#000" stroke-width="1.7" stroke-linejoin="round"/>
<path class="l" d="M308 319.6 L308.4 326 M311.4 320 L310.8 326.4 M306 323.4 L314.6 324.4" style="stroke-width:1"/>
</g>
<!--UPPER_END-->
<!--LOWER_START-->
<!-- ===== LOWER FIGURE ===== -->
<g id="labelsBot">
<text class="pn" transform="translate(231.5 611.8) scale(1.22 1)" textLength="50.5" lengthAdjust="spacing">87245</text><text class="pn sm" transform="translate(294.5 611.8) scale(0.92 1)">Z</text>
<text class="pn" transform="translate(315.3 682.6) scale(1.22 1)" textLength="50.5" lengthAdjust="spacing">87245</text>
<text class="pn" transform="translate(118.7 714.4) scale(1.22 1)" textLength="50.5" lengthAdjust="spacing">87245</text><text class="pn sm" transform="translate(181.7 714.4) scale(0.92 1)">Z</text>
<text class="pn" transform="translate(360.3 755.6) scale(1.22 1)" textLength="50.5" lengthAdjust="spacing">87246</text><text class="pn sm" transform="translate(423.3 755.6) scale(0.82 1)">H</text>
<text class="pn" transform="translate(152.5 856.2) scale(1.22 1)" textLength="50.5" lengthAdjust="spacing">87246</text>
<text class="pn" transform="translate(240.1 870.4) scale(1.22 1)" textLength="50.5" lengthAdjust="spacing">87246</text><text class="pn sm" transform="translate(303.1 870.4) scale(0.82 1)">H</text>
</g>
<!-- leaders -->
<path class="l" d="M261.3 615.5 V649"/>
<path class="l" d="M285.6 676.2 H315"/>
<path class="l" d="M147.5 718 V750"/>
<path class="l" d="M326 748.8 H359"/>
<path class="l" d="M180 805.5 V838.5"/>
<path class="l" d="M269.6 853.5 V837.4 L293.2 814.4"/>
<!-- dashed guide lines -->
<path class="d" d="M328.1 765.3 V783"/><path class="d2" d="M327.4 788.4 L457 853.6"/>
<path class="d" d="M326 802.6 V820.6"/><path class="d2" d="M316.2 816.4 L323.7 819.4"/><path class="d2" d="M327.6 801.2 L459 868.3"/>
<!-- hose 87245 (S) -->
<path class="h" d="M275.6 669.4 C279 670.8 284.4 675 288.4 679.2 C292.6 683.6 294.8 688.6 294.8 694.6 C294.8 700.6 292 705.6 287 708.8 C283.4 710.8 279.6 710.6 274.6 709.6 L246.4 704 C243.2 703.4 241.4 704.6 241.4 707.2 C241.4 709.6 242.6 711 245.6 712.6 L300.4 742.2 L293.2 754.2 L236.8 721.2 C231.2 717.8 227.6 712.8 227.6 706.4 C227.6 699.6 231 694.6 236.2 691.8 C240 689.8 243.6 689.8 248.4 690.6 L277 695.8 C280.2 696.4 282.4 695.6 282.4 693.4 C282.4 691.4 281.2 689.6 278.6 687 L268.4 677.6 C266.4 675.6 266.2 673.8 268.4 672 C270.8 670.2 273 668.6 275.6 669.4 Z"/>
<g transform="translate(297.3,748.6) rotate(17)"><ellipse class="h" cx="0" cy="0" rx="4" ry="6.2" style="stroke-width:2.3"/><ellipse cx="0" cy="0.3" rx="1.3" ry="3" fill="#fff" stroke="#000" stroke-width="1"/></g>
<!-- hose 87246 -->
<path class="h" d="M156 771.8 C158 769.8 161.6 768.6 164 769.8 C165.6 770.6 166.6 771.8 168.2 773.8 L185.8 793.6 C187.4 795.4 188.8 796.4 191.6 797 L241.6 808.2 C244.4 808.8 246 807.8 247.6 805.2 L256.6 790.6 C259.2 786.4 262.4 784 267 784 C271.8 784 274.8 785 278.4 787 L291.4 794.2 L285.2 805.6 L273 798.6 C270.6 797.2 268.6 797.2 266.8 799 L254.4 813.8 C251.6 817.4 248 819.6 243.4 820.2 C240 820.6 237.6 820.2 234 819.4 L188 808.8 C184.2 807.8 181.8 806.2 179.2 803.4 L156.600 777.8 C154.6 775.4 154.2 773.6 156 771.8 Z"/>
<g transform="translate(287.2,799.8) rotate(22)"><ellipse class="h" cx="0" cy="0" rx="4" ry="6.2" style="stroke-width:2.3"/><ellipse cx="0" cy="0.3" rx="1.3" ry="3" fill="#fff" stroke="#000" stroke-width="1"/></g>

<!-- clamp 5 -->
<g id="c5">
<path class="h" d="M138.2 757 L147 749.8 L151.8 750 L159.4 757.2 L159.6 762 L151.6 770.6 L143.6 772.4 L138 764 Z"/>
<g transform="translate(151.4,763) rotate(-38)"><ellipse class="h" cx="0" cy="0" rx="7.6" ry="6" style="stroke-width:2.6"/><ellipse class="h" cx="0" cy="0" rx="4.6" ry="3.2" style="stroke-width:1.4"/></g>
<path class="b" d="M133.6 760 L137.2 758.6 L139.4 759.6 L141.8 758.6 L143.6 762 L143.8 768 L141.600 774.4 L138.6 772.6 L136.4 773.2 L134.6 769.6 L136.6 767.8 L134 765.4 L136.4 763 Z"/>
<path d="M137.6 766.6 L140 765.4 L141 769.6 L139 771 Z" fill="#fff" stroke="none"/>
</g>
<!-- clamp 6 -->
<g id="c6">
<path class="h" d="M258.6 652.2 C253.6 652.8 250 656 248.8 661 C248 665.4 250.4 669.6 254.8 671.8 C257.2 672.6 259.4 672.4 261.6 671.6 L268 656 Z"/>
<g transform="translate(262.2,664) rotate(-42)"><ellipse class="h" cx="0" cy="0" rx="8.6" ry="5.6" style="stroke-width:2.6"/><ellipse class="h" cx="-0.4" cy="0.2" rx="5.6" ry="2.8" style="stroke-width:1.4"/></g>
<path class="b" d="M258.4 648.4 L260.6 646.2 L263.4 647.4 L264.4 652 L262.8 656.8 L259.2 655.8 L257 652.6 Z"/>
<path d="M264.2 652.4 L267.4 648.600 L274.8 655.4 L271.4 659.2 L264.8 656.4 Z" fill="#fff" stroke="#000" stroke-width="1.7" stroke-linejoin="round"/>
<path class="l" d="M266.6 651 L270.6 657.6 M269.4 651.2 L267 657.2 M271.6 653 L269.4 658.2" style="stroke-width:1"/>
</g>
<!-- clamp 7 = clamp 3 shifted, clamp 8 = clamp 4 shifted -->
<use href="#c3" transform="translate(0,512)"/>
<use href="#c4" transform="translate(0,477)"/>
<!--LOWER_END-->

<!--UNITUSE--><use href="#unit"/>
<use href="#unit" transform="translate(0,477)"/>
<!-- footer -->
<text class="ft" x="14.5" y="1105.6" textLength="42.5" lengthAdjust="spacing" style="font-weight:bold">8716</text>
<text class="ft" x="682" y="1105.6" textLength="66.7" lengthAdjust="spacing" style="stroke:#000;stroke-width:0.5px">876930- A</text>
</svg>
</body>
</html>
